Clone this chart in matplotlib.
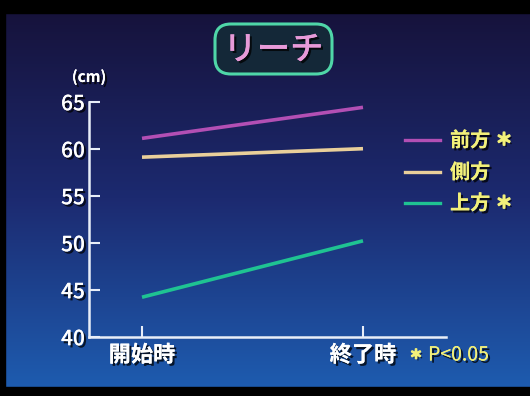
import numpy as np
import matplotlib
matplotlib.use("Agg")
import matplotlib.pyplot as plt
import matplotlib.patheffects as pe
from matplotlib.patches import FancyBboxPatch, Rectangle

plt.rcParams['font.family'] = ['Noto Sans CJK JP', 'DejaVu Sans']

# data
timepoints = ["開始時", "終了時"]
series_names = ["前方", "側方", "上方"]
significant = [True, False, True]
front = [61.1, 64.4]
side = [59.1, 60.0]
upper = [44.2, 50.2]
y_ticks = [40, 45, 50, 55, 60, 65]
line_colors = ["#b24fb4", "#e9cf9a", "#1fc392"]

W, H = 530, 396
fig = plt.figure(figsize=(W / 100, H / 100), dpi=100)

# background gradient (dark navy at top -> blue at bottom)
bg = fig.add_axes([0, 0, 1, 1])
bg.set_axis_off()
top_c = np.array([22, 17, 56]) / 255
mid_c = np.array([28, 42, 112]) / 255
bot_c = np.array([30, 94, 178]) / 255
t = np.linspace(0, 1, 256)[:, None]
grad = np.where(t < 0.5,
                top_c + (mid_c - top_c) * (t / 0.5),
                mid_c + (bot_c - mid_c) * ((t - 0.5) / 0.5))
img = np.repeat(grad[:, None, :], 2, axis=1)
bg.imshow(img, aspect='auto', extent=[0, 1, 0, 1], origin='upper')
bg.set_xlim(0, 1)
bg.set_ylim(0, 1)

# black frame
for x0, y0, w, h in [(0, 1 - 13 / H, 1, 13 / H), (0, 0, 1, 9 / H), (0, 0, 5 / W, 1)]:
    bg.add_patch(Rectangle((x0, y0), w, h, color='black', transform=bg.transAxes, zorder=5))

shadow = [pe.withSimplePatchShadow(offset=(1.6, -1.6), shadow_rgbFace='black', alpha=0.75), pe.Normal()]
yellow = '#f2f07a'
star_fx = [pe.withSimplePatchShadow(offset=(1.4, -1.4), shadow_rgbFace='black', alpha=0.7),
           pe.withStroke(linewidth=1.2, foreground=yellow)]

# title box
bx0, bx1, by0, by1 = 215 / W, 332 / W, 1 - 74 / H, 1 - 24 / H
box = FancyBboxPatch((bx0, by0), bx1 - bx0, by1 - by0,
                     boxstyle="round,pad=0,rounding_size=0.03",
                     fc="#142838", ec="#4fd6a8", lw=2.2, transform=bg.transAxes, zorder=3,
                     mutation_aspect=W / H)
bg.add_patch(box)
bg.text((bx0 + bx1) / 2, (by0 + by1) / 2 - 0.003, "リーチ", ha='center', va='center',
        color="#e79ad8", fontsize=24, fontweight='medium', transform=bg.transAxes,
        zorder=4, path_effects=shadow)

# main axes
x_left_px, x_right_px = 89, 446
x0_px, x1_px = 142, 363
scale = x1_px - x0_px
ax = fig.add_axes([x_left_px / W, 1 - 336.7 / H, (x_right_px - x_left_px) / W, (336.7 - 101.7) / H])
ax.patch.set_alpha(0)
ax.set_xlim((x_left_px - x0_px) / scale, (x_right_px - x0_px) / scale)
ax.set_ylim(40, 65)

xs = np.arange(len(timepoints))
for vals, c in zip([front, side, upper], line_colors):
    ax.plot(xs, vals, color=c, lw=2.6, solid_capstyle='butt')

for s in ['top', 'right']:
    ax.spines[s].set_visible(False)
for s in ['left', 'bottom']:
    ax.spines[s].set_color('#e8eef8')
    ax.spines[s].set_linewidth(1.8)

ax.set_yticks(y_ticks)
ax.set_yticklabels([str(v) for v in y_ticks])
ax.set_xticks(xs)
ax.set_xticklabels(timepoints)
ax.tick_params(axis='y', direction='in', length=8, width=1.5, color='#e8eef8',
               labelcolor='white', labelsize=15, pad=3)
ax.tick_params(axis='x', direction='in', length=8, width=1.5, color='#e8eef8',
               labelcolor='white', labelsize=16, pad=5)
for lab in ax.get_yticklabels():
    lab.set_fontweight('medium')
    lab.set_path_effects(shadow)
for lab in ax.get_xticklabels():
    lab.set_fontweight('bold')
    lab.set_path_effects(shadow)

# unit label
bg.text(89 / W, 1 - 77 / H, "(cm)", ha='center', va='center', color='white',
        fontsize=11, fontweight='bold', transform=bg.transAxes, path_effects=shadow)

# legend drawn by hand
leg_y = [140, 172, 203]
for name, sig, c, ly in zip(series_names, significant, line_colors, leg_y):
    yy = 1 - ly / H
    bg.plot([405 / W, 440 / W], [yy, yy], color=c, lw=2.4, transform=bg.transAxes)
    bg.text(450 / W, yy, name, ha='left', va='center', color=yellow, fontsize=14.5,
            fontweight='bold', transform=bg.transAxes, path_effects=shadow)
    if sig:
        bg.text(504 / W, yy, "＊", ha='center', va='center', color=yellow, fontsize=12,
                fontweight='bold', transform=bg.transAxes, path_effects=star_fx)

# significance note
bg.text(416 / W, 1 - 355 / H, "＊", ha='center', va='center', color=yellow,
        fontsize=9, fontweight='bold', transform=bg.transAxes, path_effects=star_fx)
bg.text(428 / W, 1 - 355 / H, "P<0.05", ha='left', va='center', color=yellow,
        fontsize=14, transform=bg.transAxes, path_effects=shadow)

fig.savefig("out.png", dpi=100)
